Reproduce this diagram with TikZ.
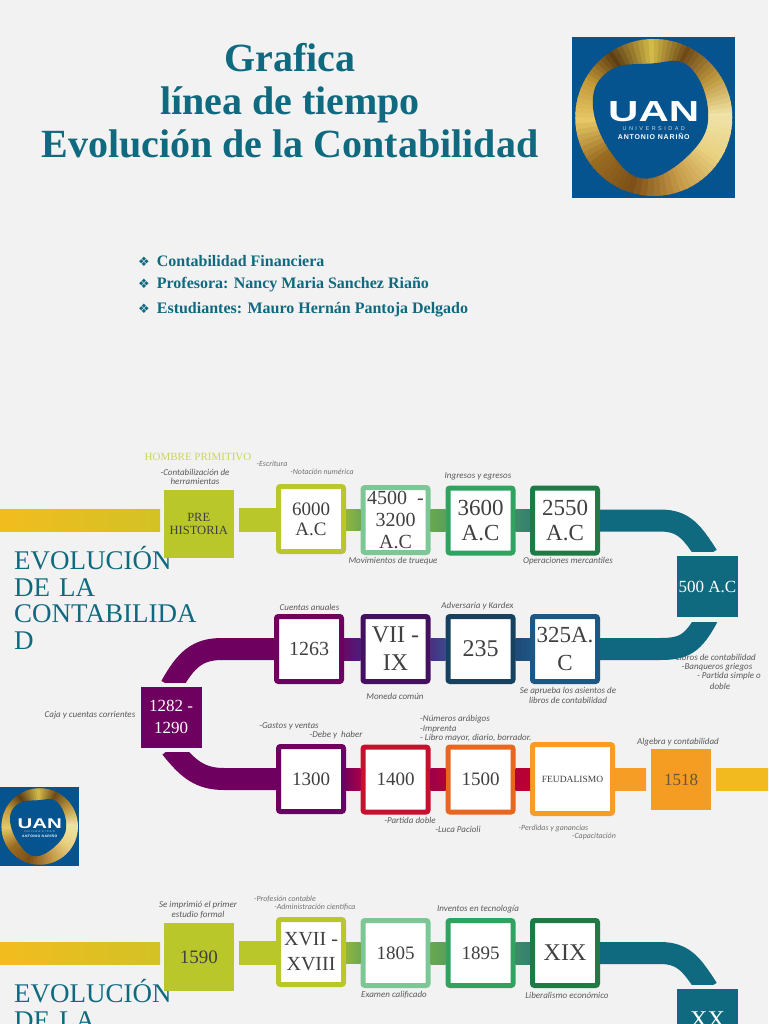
\documentclass[tikz,border=0pt]{standalone}
\usepackage{fontspec}
\setmainfont{Liberation Serif}
\newfontfamily\notefont[ItalicFont=* Italic]{Carlito}
\newfontfamily\dingfont{DejaVu Sans}
\newfontfamily\logofont{Liberation Sans}
\newfontfamily\logospaced[LetterSpace=45]{Liberation Sans}
\newfontfamily\logobold[LetterSpace=12]{Liberation Sans}
\usetikzlibrary{calc}
\definecolor{bgc}{HTML}{F2F2F2}
\definecolor{teal}{HTML}{0F6A80}
\definecolor{lime}{HTML}{B9C72B}
\definecolor{mint}{HTML}{7DC796}
\definecolor{grn}{HTML}{2FA35F}
\definecolor{dgrn}{HTML}{1F7A45}
\definecolor{purp}{HTML}{6E0060}
\definecolor{dpurp}{HTML}{43115F}
\definecolor{navy}{HTML}{16415F}
\definecolor{blu}{HTML}{1D5783}
\definecolor{redc}{HTML}{C8102E}
\definecolor{oran}{HTML}{E8661F}
\definecolor{amber}{HTML}{F59D25}
\definecolor{yell}{HTML}{F2BC1E}
\definecolor{logoblue}{HTML}{05538F}
\definecolor{txt}{HTML}{404040}
\definecolor{notec}{HTML}{595959}
\definecolor{gA}{HTML}{8FB53F}\definecolor{gB}{HTML}{6EA84E}
\definecolor{gC}{HTML}{6AA850}\definecolor{gD}{HTML}{5A9F5A}
\definecolor{gE}{HTML}{3C8C68}\definecolor{gF}{HTML}{357F70}
\definecolor{pA}{HTML}{660A68}\definecolor{pB}{HTML}{4E1E7A}
\definecolor{pC}{HTML}{4A2F80}\definecolor{pD}{HTML}{3A4A8A}
\definecolor{pE}{HTML}{1F4A78}\definecolor{pF}{HTML}{1F5583}
\definecolor{rA}{HTML}{7A0058}\definecolor{rB}{HTML}{A80048}
\definecolor{rC}{HTML}{9E0048}\definecolor{rD}{HTML}{B0003C}
\definecolor{rE}{HTML}{B4003A}\definecolor{rF}{HTML}{BC0030}
\newcommand\fz[1]{\fontsize{#1}{#1}\selectfont}
\newcommand\fzl[2]{\fontsize{#1}{#2}\selectfont}
\newcommand\link[3]{\shade[left color=#3,right color=#3] ([yshift=-11pt]#1.east) rectangle ([yshift=11pt]#2.west);}
\newcommand\glink[4]{\shade[left color=#3,right color=#4] ([yshift=-11pt]#1.east) rectangle ([yshift=11pt]#2.west);}
\newcommand\uanlogo[4]{%
\begin{scope}[shift={(#1,#2)},scale=#3,transform shape]
\fill[logoblue] (-81.5,-80.5) rectangle (81.5,80.5);
\begin{scope}
\clip (0,0) circle (78.5);
\foreach \aa/\ab/\ca/\cb in {0/30/F0E4A8/C09A40,30/62/C09A40/6F4A18,62/90/6F4A18/D2BA48,90/122/D2BA48/5E3F14,122/150/5E3F14/C49A38,150/180/C49A38/E6C866,180/215/E6C866/9A6C22,215/250/9A6C22/7C5018,250/290/7C5018/C69A48,290/325/C69A48/E8D080,325/360/E8D080/F0E4A8}{
 \definecolor{cca}{HTML}{\ca}\definecolor{ccb}{HTML}{\cb}
 \foreach \i in {0,...,7}{
  \pgfmathsetmacro\pp{100-\i*12.5}
  \pgfmathsetmacro\ta{\aa+(\ab-\aa)*\i/8}
  \pgfmathsetmacro\tb{\aa+(\ab-\aa)*(\i+1.3)/8}
  \fill[cca!\pp!ccb] (0,0) -- ({90*cos(\ta)},{-90*sin(\ta)}) -- ({90*cos(\tb)},{-90*sin(\tb)}) -- cycle;
 }
}
\end{scope}
\fill[logoblue] plot[smooth cycle,tension=.7] coordinates {(-44,-47) (-2,-54) (34,-52) (54,-10) (42,30) (-6,61) (-42,36) (-61,-14)};
\node[white,inner sep=0,xscale=1.45,font=\logofont\bfseries\fz{29}] (#4u) at (0,-6) {UAN};
\node[white!80!logoblue,inner sep=0,font=\logospaced\fz{5.5}] (#4v) at (0,11) {UNIVERSIDAD};
\node[white,inner sep=0,font=\logobold\bfseries\fz{7}] (#4w) at (0,19) {ANTONIO NARIÑO};
\end{scope}}
\tikzset{
 x=1pt,y=-1pt,
 yearbox/.style={draw=#1,fill=white,line width=5pt,rounded corners=2pt,minimum size=65pt,inner sep=0pt,align=center,text=txt,font=\fzl{19}{20}},
 solidbox/.style={fill=#1,minimum width=61pt,minimum height=61pt,inner sep=0pt,align=center,text=white,font=\fzl{17}{22}},
 limebox/.style={fill=lime,minimum width=69.5pt,minimum height=68pt,inner sep=0pt,align=center,text=txt},
 band/.style={line width=22pt,draw=#1},
 note/.style={inner sep=0pt,text=notec,align=center,font=\notefont\itshape\fzl{9}{9.6}},
 notesm/.style={inner sep=0pt,text=notec!85!white,align=center,font=\notefont\itshape\fzl{7.9}{8}},
 bigtext/.style={inner sep=0pt,anchor=north west,align=left,text=teal,text width=190pt,font=\fzl{27}{26.5}},
 bullet/.style={inner sep=0pt,anchor=west,text=teal,font=\bfseries\fz{16}},
}
\newcommand\bul{{\dingfont\mdseries\fz{13}\char"2756}\hspace{7pt}}
\begin{document}
\begin{tikzpicture}
\fill[bgc] (0,0) rectangle (768,1024);
\useasboundingbox (0,0) rectangle (768,1024);
\clip (0,0) rectangle (768,1024);

% Title
\node[inner sep=0,align=center,text=teal,font=\bfseries\fzl{40}{43}] (title) at (290,101) {Grafica\\línea de tiempo\\Evolución de la Contabilidad};
\uanlogo{653.75}{117.5}{1}{logoa}
\node[bullet] (b1) at (138,261) {\bul Contabilidad Financiera};
\node[bullet] (b2) at (138,285) {\bul Profesora: Nancy Maria Sanchez Riaño};
\node[bullet] (b3) at (138,309.5) {\bul Estudiantes: Mauro Hernán Pantoja Delgado};

% Clipped big text
\begin{scope}
\clip (0,540) rectangle (170,700);
\node[bigtext] (evoa) at (14,546) {EVOLUCIÓN};
\end{scope}
\node[bigtext] (evob) at (14,578) {DE LA\\CONTABILIDA\\D};
\begin{scope}
\clip (0,975) rectangle (170,1024);
\node[bigtext] (evoc) at (14,979) {EVOLUCIÓN};
\end{scope}
\begin{scope}
\clip (0,1000) rectangle (170,1024);
\node[bigtext] (evod) at (14,1011) {DE LA};
\end{scope}

% Notes under the bands
\node[note] (n30) at (716,657) {Libros de contabilidad};
\node[note] (n31) at (717,667) {-Banqueros griegos};
\node[note] (n32) at (729,676.5) {- Partida simple o};
\node[note] (n33) at (720,686) {doble};

% Row 1
\node[limebox,font=\fzl{12.5}{13.5}] (pre) at (198.75,524) {PRE\\HISTORIA};
\node[yearbox=lime] (a1) at (311,519) {6000\\A.C};
\node[yearbox=mint,font=\fzl{20}{22}] (a2) at (395.5,520) {4500\ \ -\\3200\\A.C};
\node[yearbox=grn,font=\fzl{23}{25.5}] (a3) at (480.5,520.5) {3600\\A.C};
\node[yearbox=dgrn,font=\fzl{23}{25.5}] (a4) at (565,520.5) {2550\\A.C};
\node[solidbox=teal,font=\fz{17}] (h500) at (707.5,586.5) {500 A.C};

\coordinate (s0) at (0,520);
\coordinate (s1) at (160,520);
\coordinate (s2) at (239,520);
\glink{s0}{s1}{yell}{yell!45!lime}
\link{s2}{a1}{lime}
\glink{a1}{a2}{gA}{gB}
\glink{a2}{a3}{gC}{gD}
\glink{a3}{a4}{gE}{gF}
\begin{scope}
\clip (596,490) rectangle (768,551);
\draw[band=teal] (a4.east) -- ++(60,0) .. controls +(24,0) and (692,532) .. (h500.north);
\end{scope}

% Row 2
\node[yearbox=purp,font=\fz{20}] (c1) at (309,649) {1263};
\node[yearbox=dpurp,font=\fzl{24}{28}] (c2) at (395.5,649) {VII -\\IX};
\node[yearbox=navy,font=\fz{24}] (c3) at (480.5,649) {235};
\node[yearbox=blu,font=\fzl{23}{28}] (c4) at (565,649) {325A.\\C};
\node[solidbox=purp] (h1282) at (171,717) {1282 -\\1290};
\glink{c1}{c2}{pA}{pB}
\glink{c2}{c3}{pC}{pD}
\glink{c3}{c4}{pE}{pF}
\begin{scope}
\clip (596,622) rectangle (768,680);
\draw[band=teal!90!blu] (c4.east) -- ++(60,0) .. controls +(24,0) and (693,644) .. (h500.south);
\end{scope}
\begin{scope}
\clip (130,625) rectangle (280,682);
\draw[band=purp] (c1.west) -- ++(-52,0) .. controls +(-24,0) and (186,659) .. (h1282.north);
\end{scope}

% Row 3
\node[yearbox=purp] (d1) at (311,779) {1300};
\node[yearbox=redc] (d2) at (395.5,779.5) {1400};
\node[yearbox=oran] (d3) at (480.5,779.5) {1500};
\node[yearbox=amber,minimum width=80pt,minimum height=69pt,font=\fz{9.5}] (d4) at (572.5,779) {FEUDALISMO};
\node[solidbox=amber!95!orange,text=txt!70!brown,font=\fz{17},minimum width=60pt] (h1518) at (681,779.5) {1518};
\begin{scope}
\clip (130,752) rectangle (280,800);
\draw[band=purp] (d1.west) -- ++(-52,0) .. controls +(-24,0) and (188,769) .. (h1282.south);
\end{scope}
\glink{d1}{d2}{rA}{rB}
\glink{d2}{d3}{rC}{rD}
\glink{d3}{d4}{rE}{rF}
\coordinate (e1) at (646,779.5);
\coordinate (e2) at (716,779.5);
\coordinate (e3) at (768,779.5);
\link{d4}{e1}{amber}
\link{e2}{e3}{yell!95!amber}
\uanlogo{39.7}{826.5}{0.487}{logob}

% Row 4
\node[limebox,font=\fz{19}] (y1) at (198.75,957) {1590};
\node[yearbox=lime,font=\fzl{20}{25}] (f1) at (311,952) {XVII -\\XVIII};
\node[yearbox=mint] (f2) at (395.5,953) {1805};
\node[yearbox=grn] (f3) at (480.5,953) {1895};
\node[yearbox=dgrn,font=\fz{24}] (f4) at (565,953) {XIX};
\node[solidbox=teal,font=\fz{24}] (h20) at (707.5,1019.5) {XX};
\coordinate (t0) at (0,953);
\coordinate (t1) at (160,953);
\coordinate (t2) at (239,953);
\glink{t0}{t1}{yell}{yell!45!lime}
\link{t2}{f1}{lime}
\glink{f1}{f2}{gA}{gB}
\glink{f2}{f3}{gC}{gD}
\glink{f3}{f4}{gE}{gF}
\begin{scope}
\clip (596,930) rectangle (768,984);
\draw[band=teal] (f4.east) -- ++(60,0) .. controls +(24,0) and (692,965) .. (h20.north);
\end{scope}

% Annotations
\node[inner sep=0,text=lime!75!white,font=\fz{11}] (n1) at (198,457) {HOMBRE PRIMITIVO};
\node[note] (n2) at (195,477) {-Contabilización de\\herramientas};
\node[notesm] (n3) at (272,464) {-Escritura};
\node[notesm] (n4) at (322,472) {-Notación numérica};
\node[note] (n5) at (393,561.5) {Movimientos de trueque};
\node[note] (n6) at (478,476.5) {Ingresos y egresos};
\node[note] (n7) at (568,561.5) {Operaciones mercantiles};
\node[note] (n8) at (309.5,607) {Cuentas anuales};
\node[note] (n9) at (477.5,606) {Adversaria y Kardex};
\node[note] (n10) at (395,696.5) {Moneda común};
\node[note] (n11) at (568,695.5) {Se aprueba los asientos de\\libros de contabilidad};
\node[note] (n12) at (90,715) {Caja y cuentas corrientes};
\node[note] (n13) at (289,726) {-Gastos y ventas};
\node[note] (n14) at (336,735.5) {-Debe y\ \ haber};
\node[note,anchor=west,align=left] (n15) at (420,719) {-Números arábigos};
\node[note,anchor=west,align=left] (n16) at (420,729) {-Imprenta};
\node[note,anchor=west,align=left] (n17) at (420,738.5) {- Libro mayor, diario, borrador.};
\node[note] (n18) at (678,742) {Algebra y contabilidad};
\node[note] (n19) at (410,820) {-Partida doble};
\node[note] (n20) at (458,829) {-Luca Pacioli};
\node[notesm] (n21) at (553.5,828) {-Perdidas y ganancias};
\node[notesm] (n22) at (594,836) {-Capacitación};
\node[note] (n23) at (198,910) {Se imprimió el primer\\estudio formal};
\node[notesm] (n24) at (285,899) {-Profesión contable};
\node[notesm] (n25) at (315,907) {-Administración científica};
\node[note] (n26) at (478,909.5) {Inventos en tecnología};
\node[note] (n27) at (394,995) {Examen calificado};
\node[note] (n28) at (567,995) {Liberalismo económico};
\end{tikzpicture}
\end{document}
